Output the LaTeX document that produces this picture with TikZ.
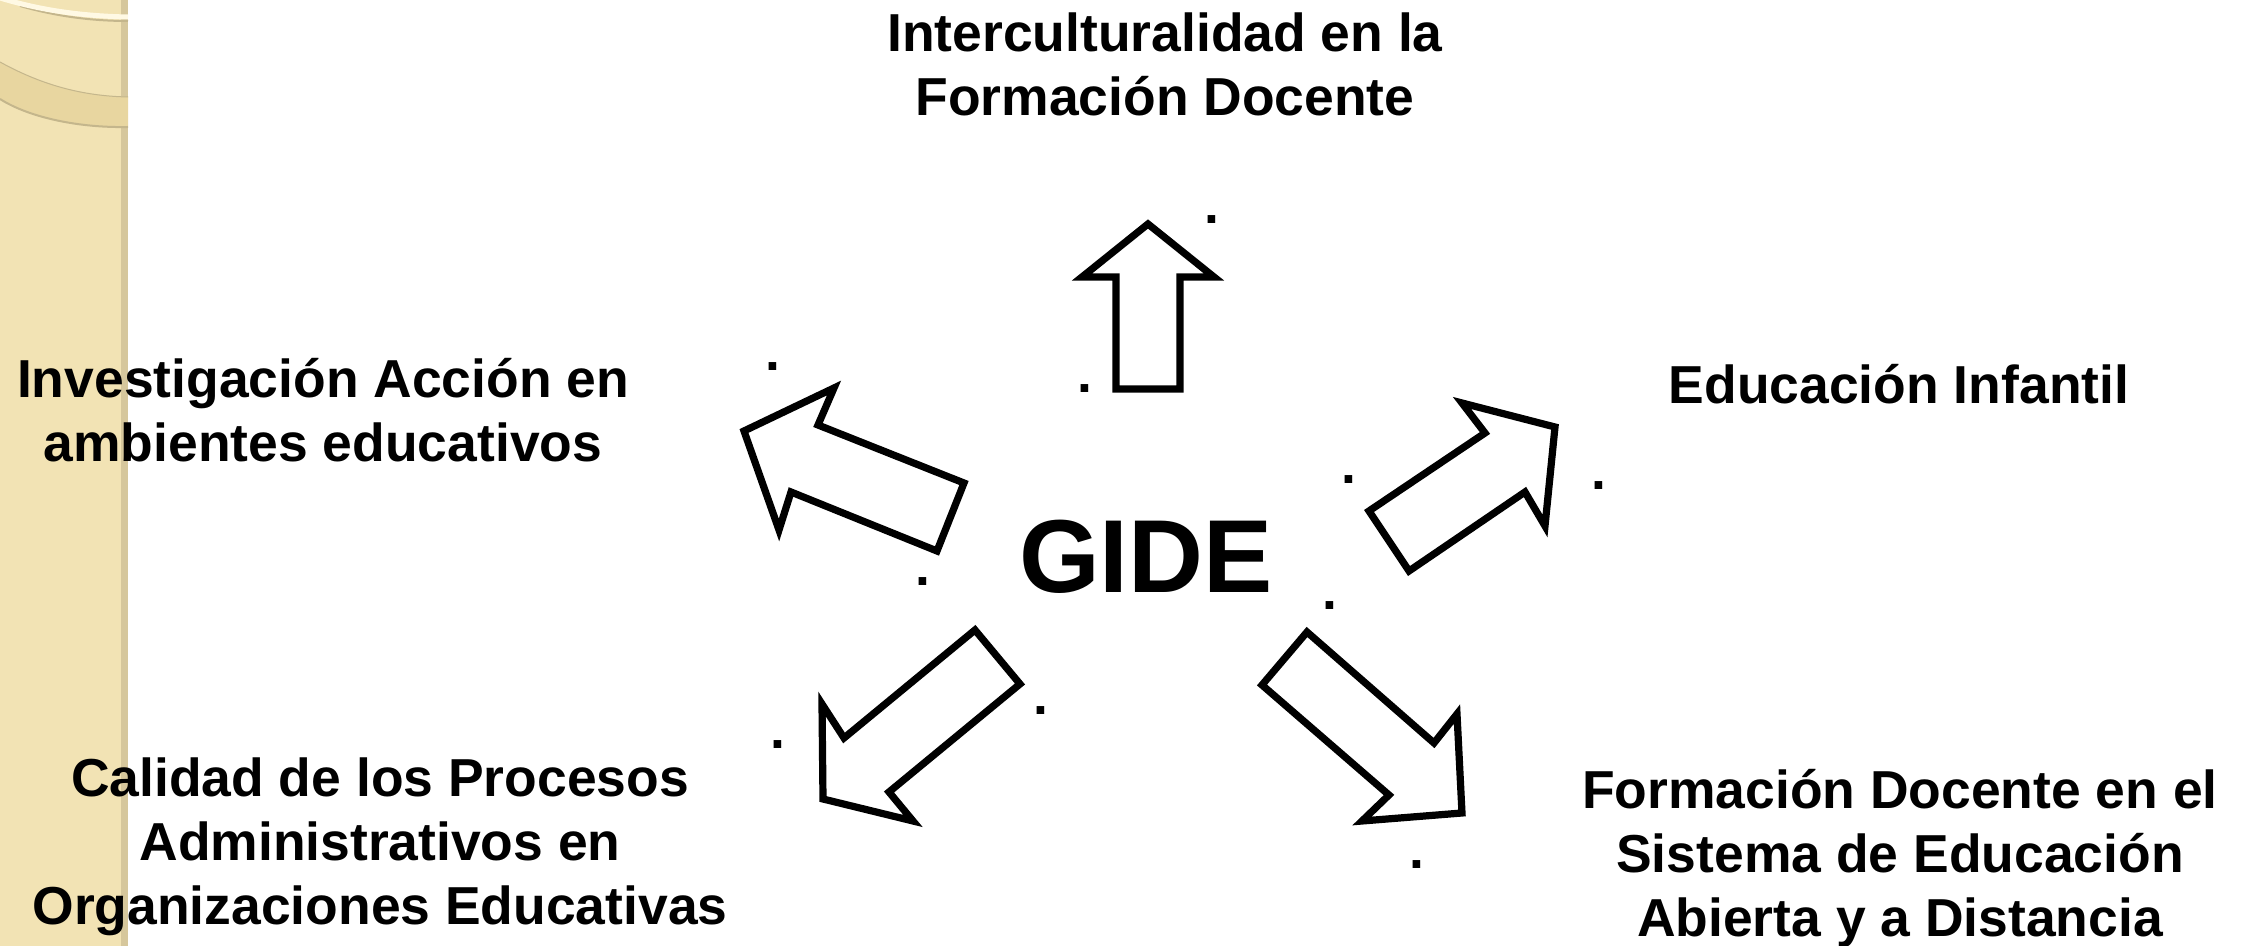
\documentclass[tikz,border=0pt]{standalone}
\usepackage{fontspec}
\setmainfont{Liberation Sans}
\usepackage{tikz}
\definecolor{franja}{RGB}{242,227,180}
\definecolor{franjaborde}{RGB}{214,199,156}
\definecolor{banda}{RGB}{232,214,160}
\definecolor{sombra}{RGB}{196,182,140}
\definecolor{crema}{RGB}{255,249,228}
\tikzset{
  tema/.style = {align=center, inner sep=0pt,
    font=\bfseries\fontsize{15.2}{18.3}\selectfont},% linea de investigacion
  punto/.style = {inner sep=0pt,
    font=\bfseries\fontsize{15.2}{18.3}\selectfont},% punto suelto
  centro/.style = {inner sep=0pt,
    font=\bfseries\fontsize{29.5}{35}\selectfont},% nombre del grupo
  bloque/.style = {draw=black, fill=white, line width=0.072cm}% flecha de bloque
}

\begin{document}
\begin{tikzpicture}[x=0.01cm, y=-0.01cm]
\useasboundingbox (0,0) rectangle (2244,946);
\fill[white] (0,0) rectangle (2244,946);
% franja decorativa de la izquierda
\fill[franja] (0,0) rectangle (121,946);
\fill[franjaborde] (121,0) rectangle (128,946);
\fill[banda] (0,62) .. controls (40,84) and (80,96) .. (128,97)
  -- (128,127) .. controls (80,128) and (30,118) .. (0,99) -- cycle;
\draw[sombra, line width=0.02cm] (0,99) .. controls (30,118) and (80,128) .. (128,127);
\draw[sombra, line width=0.01cm] (0,62) .. controls (40,84) and (80,96) .. (128,97);
\draw[sombra, line width=0.02cm] (20,6) .. controls (55,16) and (90,21) .. (128,21);
\draw[crema, line width=0.05cm] (0,-2) .. controls (40,10) and (80,16) .. (128,17);

% nombre del grupo
\node[centro, anchor=base] (gide) at (1146,593) {GIDE};

% lineas (anchor=base cae en la ultima linea)
\node[tema, anchor=base] (interc) at (1165,116)
  {Interculturalidad en la\\Formación Docente};
\node[tema, anchor=base] (invest) at (323,462)
  {Investigación Acción en\\ambientes educativos};
\node[tema, anchor=base] (infantil) at (1899,404) {Educación Infantil};
\node[tema, anchor=base] (calidad) at (380,925)
  {Calidad de los Procesos\\Administrativos en\\Organizaciones Educativas};
\node[tema, anchor=base] (abierta) at (1900,937)
  {Formación Docente en el\\Sistema de Educación\\Abierta y a Distancia};

% flechas
\draw[bloque] (1148,224) -- (1214,277) -- (1180,277) -- (1180,389)
  -- (1116,389) -- (1116,277) -- (1082,277) -- cycle;
\draw[bloque] (744,431) -- (834,388) -- (818,425) -- (964,483)
  -- (937,551) -- (791,492) -- (779,530) -- cycle;
\draw[bloque] (1555,427) -- (1545,526) -- (1525,492) -- (1409,571)
  -- (1369,511) -- (1485,433) -- (1462,403) -- cycle;
\draw[bloque] (823,799) -- (822,704) -- (844,738) -- (975,630)
  -- (1020,684) -- (889,792) -- (913,821) -- cycle;
\draw[bloque] (1462,813) -- (1362,821) -- (1389,795) -- (1262,685)
  -- (1307,632) -- (1434,743) -- (1457,714) -- cycle;

% puntos sueltos
\node[punto] (p1) at (1212,220) {.};
\node[punto] (p2) at (1085,389) {.};
\node[punto] (p3) at (773,367) {.};
\node[punto] (p4) at (923,582) {.};
\node[punto] (p5) at (1349,480) {.};
\node[punto] (p6) at (1599,486) {.};
\node[punto] (p7) at (1330,606) {.};
\node[punto] (p8) at (1041,711) {.};
\node[punto] (p9) at (778,745) {.};
\node[punto] (p10) at (1417,865) {.};
\end{tikzpicture}
\end{document}
